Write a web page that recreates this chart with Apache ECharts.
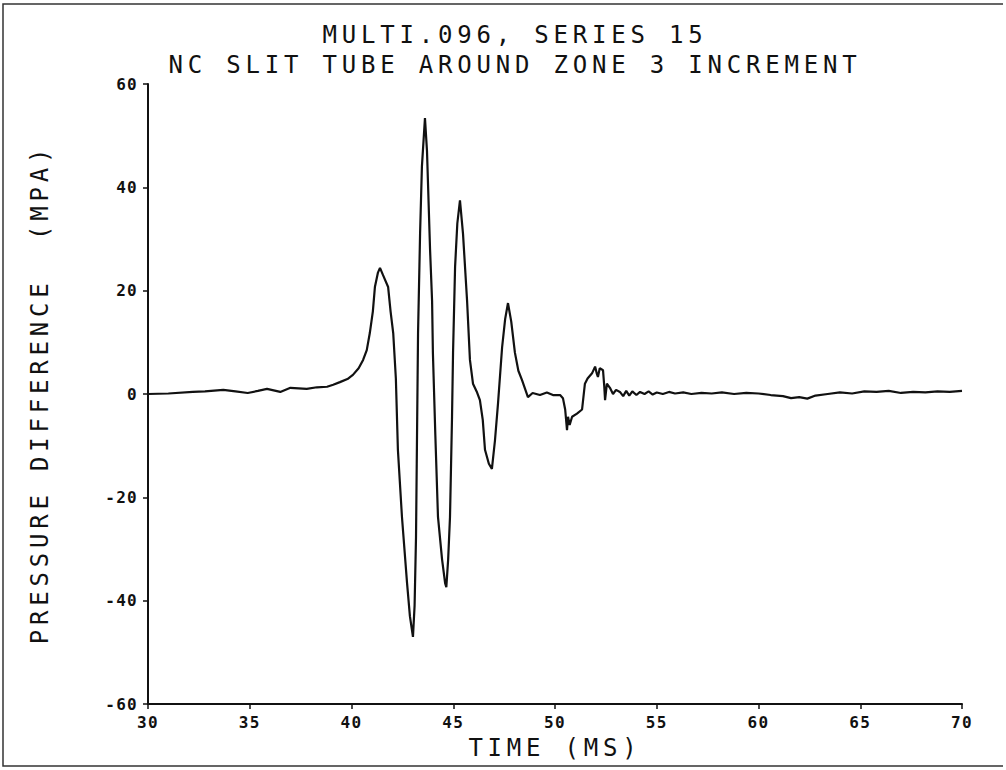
<!DOCTYPE html>
<html>
<head>
<meta charset="utf-8">
<script src="https://cdn.jsdelivr.net/npm/echarts@6/dist/echarts.min.js"></script>
<style>
  html, body { margin: 0; padding: 0; background: #fff; }
  #chart { width: 1006px; height: 770px; }
  #chart svg text { letter-spacing: 0.2em; }
  #chart svg text[style*="16px"] { letter-spacing: 0.08em; }
</style>
</head>
<body>
<div id="chart"></div>
<script>
// ---- data ----
const titleLine1 = 'MULTI.096, SERIES 15';
const titleLine2 = 'NC SLIT TUBE AROUND ZONE 3 INCREMENT';
const xAxisName = 'TIME (MS)';
const yAxisName = 'PRESSURE DIFFERENCE  (MPA)';

const timeMs = [
  30.0, 31.0, 32.2, 32.8, 33.7, 34.3, 34.9, 35.4, 35.85, 36.5, 37.0, 37.4, 37.8, 38.3, 38.8,
  39.1, 39.43, 39.8, 40.07, 40.35, 40.57, 40.75, 40.9, 41.05, 41.15, 41.3, 41.4, 41.55, 41.8, 41.92,
  42.05, 42.18, 42.28, 42.48, 42.73, 42.87, 43.02, 43.1, 43.17, 43.27, 43.37, 43.46, 43.61, 43.71,
  43.86, 43.96, 44.0, 44.12, 44.25, 44.45, 44.6, 44.66, 44.75, 44.84, 44.94, 44.99, 45.09, 45.2,
  45.33, 45.48, 45.68, 45.82, 45.97, 46.15, 46.31, 46.45, 46.56, 46.75, 46.9, 47.05, 47.2, 47.4,
  47.55, 47.69, 47.85, 48.03, 48.2, 48.38, 48.67, 48.9, 49.26, 49.6, 49.9, 50.25, 50.39, 50.5,
  50.59, 50.64, 50.72, 50.84, 51.08, 51.33, 51.47, 51.6, 51.82, 51.97, 52.05, 52.11, 52.2, 52.36,
  52.42, 52.46, 52.55, 52.7, 52.85, 53.0, 53.19, 53.35, 53.5, 53.65, 53.8, 54.0, 54.18, 54.4,
  54.6, 54.8, 55.0, 55.3, 55.6, 55.9, 56.3, 56.7, 57.2, 57.7, 58.2, 58.8, 59.4, 60.0, 60.6, 61.2,
  61.6, 62.0, 62.4, 62.8, 63.4, 64.0, 64.6, 65.2, 65.8, 66.4, 67.0, 67.6, 68.2, 68.8, 69.4, 70.0
];
const pressureMpa = [
  0.0, 0.1, 0.4, 0.5, 0.8, 0.5, 0.2, 0.6, 1.0, 0.4, 1.2, 1.1, 1.0, 1.3, 1.4,
  1.8, 2.3, 2.9, 3.7, 5.0, 6.6, 8.5, 11.8, 16.0, 20.7, 23.5, 24.4, 23.0, 20.7, 16.0,
  11.8, 3.0, -10.8, -23.8, -36.6, -43.0, -47.0, -41.0, -27.7, 11.8, 31.0, 44.0, 53.4, 47.0,
  28.0, 18.0, 8.0, -8.0, -23.8, -32.0, -36.6, -37.4, -32.0, -23.8, -4.4, 8.0, 24.6, 33.0,
  37.5, 31.0, 18.0, 6.6, 2.0, 0.5, -1.2, -5.0, -10.8, -13.5, -14.5, -9.0, -1.8, 9.0,
  14.5, 17.6, 14.0, 8.0, 4.5, 2.7, -0.6, 0.2, -0.2, 0.3, -0.2, -0.2, -0.8, -3.0,
  -7.0, -4.4, -6.0, -4.4, -3.8, -3.0, 2.0, 3.0, 4.0, 5.3, 4.0, 3.3, 5.0, 4.6,
  1.5, -1.2, 2.0, 1.2, 0.0, 0.8, 0.4, -0.4, 0.6, -0.3, 0.5, -0.2, 0.4, 0.0,
  0.5, -0.1, 0.3, 0.0, 0.4, 0.1, 0.3, 0.0, 0.2, 0.1, 0.3, 0.0, 0.2, 0.1, -0.2, -0.4,
  -0.8, -0.6, -0.9, -0.3, 0.0, 0.3, 0.1, 0.5, 0.4, 0.6, 0.2, 0.4, 0.3, 0.5, 0.4, 0.6
];

const xTickMin = 30, xTickMax = 70, xTickStep = 5;
const yTickMin = -60, yTickMax = 60, yTickStep = 20;

// ---- chart ----
const seriesData = timeMs.map((t, i) => [t, pressureMpa[i]]);
const ink = '#111';
const fontFam = '"DejaVu Sans Mono", monospace';

const chart = echarts.init(document.getElementById('chart'), null, { renderer: 'svg' });
chart.setOption({
  backgroundColor: '#fff',
  animation: false,
  title: [
    { text: titleLine1, left: 510, top: 18, textAlign: 'center',
      textStyle: { fontFamily: fontFam, fontSize: 24, fontWeight: 'normal', color: ink } },
    { text: titleLine2, left: 510, top: 48, textAlign: 'center',
      textStyle: { fontFamily: fontFam, fontSize: 24, fontWeight: 'normal', color: ink } }
  ],
  graphic: [
    { type: 'polyline', silent: true,
      shape: { points: [[1003, 4], [3, 4], [3, 766], [1003, 766]] },
      style: { stroke: '#333', lineWidth: 1.5, fill: null } }
  ],
  grid: { left: 148, right: 44, top: 84, bottom: 66, containLabel: false },
  xAxis: {
    type: 'value', min: xTickMin, max: xTickMax, interval: xTickStep,
    name: xAxisName, nameLocation: 'middle', nameGap: 32,
    nameTextStyle: { fontFamily: fontFam, fontSize: 24, color: ink },
    axisLine: { show: true, onZero: false, lineStyle: { color: ink, width: 2 } },
    axisTick: { show: true, inside: false, length: 5, lineStyle: { color: ink, width: 1.5 } },
    axisLabel: { fontFamily: fontFam, fontSize: 16, fontWeight: 'bold', color: ink, margin: 10 },
    splitLine: { show: false }
  },
  yAxis: {
    type: 'value', min: yTickMin, max: yTickMax, interval: yTickStep,
    name: yAxisName, nameLocation: 'middle', nameGap: 96, nameRotate: 90,
    nameTextStyle: { fontFamily: fontFam, fontSize: 24, color: ink },
    axisLine: { show: true, onZero: false, lineStyle: { color: ink, width: 2 } },
    axisTick: { show: true, inside: false, length: 5, lineStyle: { color: ink, width: 1.5 } },
    axisLabel: { fontFamily: fontFam, fontSize: 16, fontWeight: 'bold', color: ink, margin: 10 },
    splitLine: { show: false }
  },
  series: [{
    type: 'line',
    data: seriesData,
    showSymbol: false,
    smooth: false,
    lineStyle: { color: ink, width: 2.2 }
  }]
});
</script>
</body>
</html>
